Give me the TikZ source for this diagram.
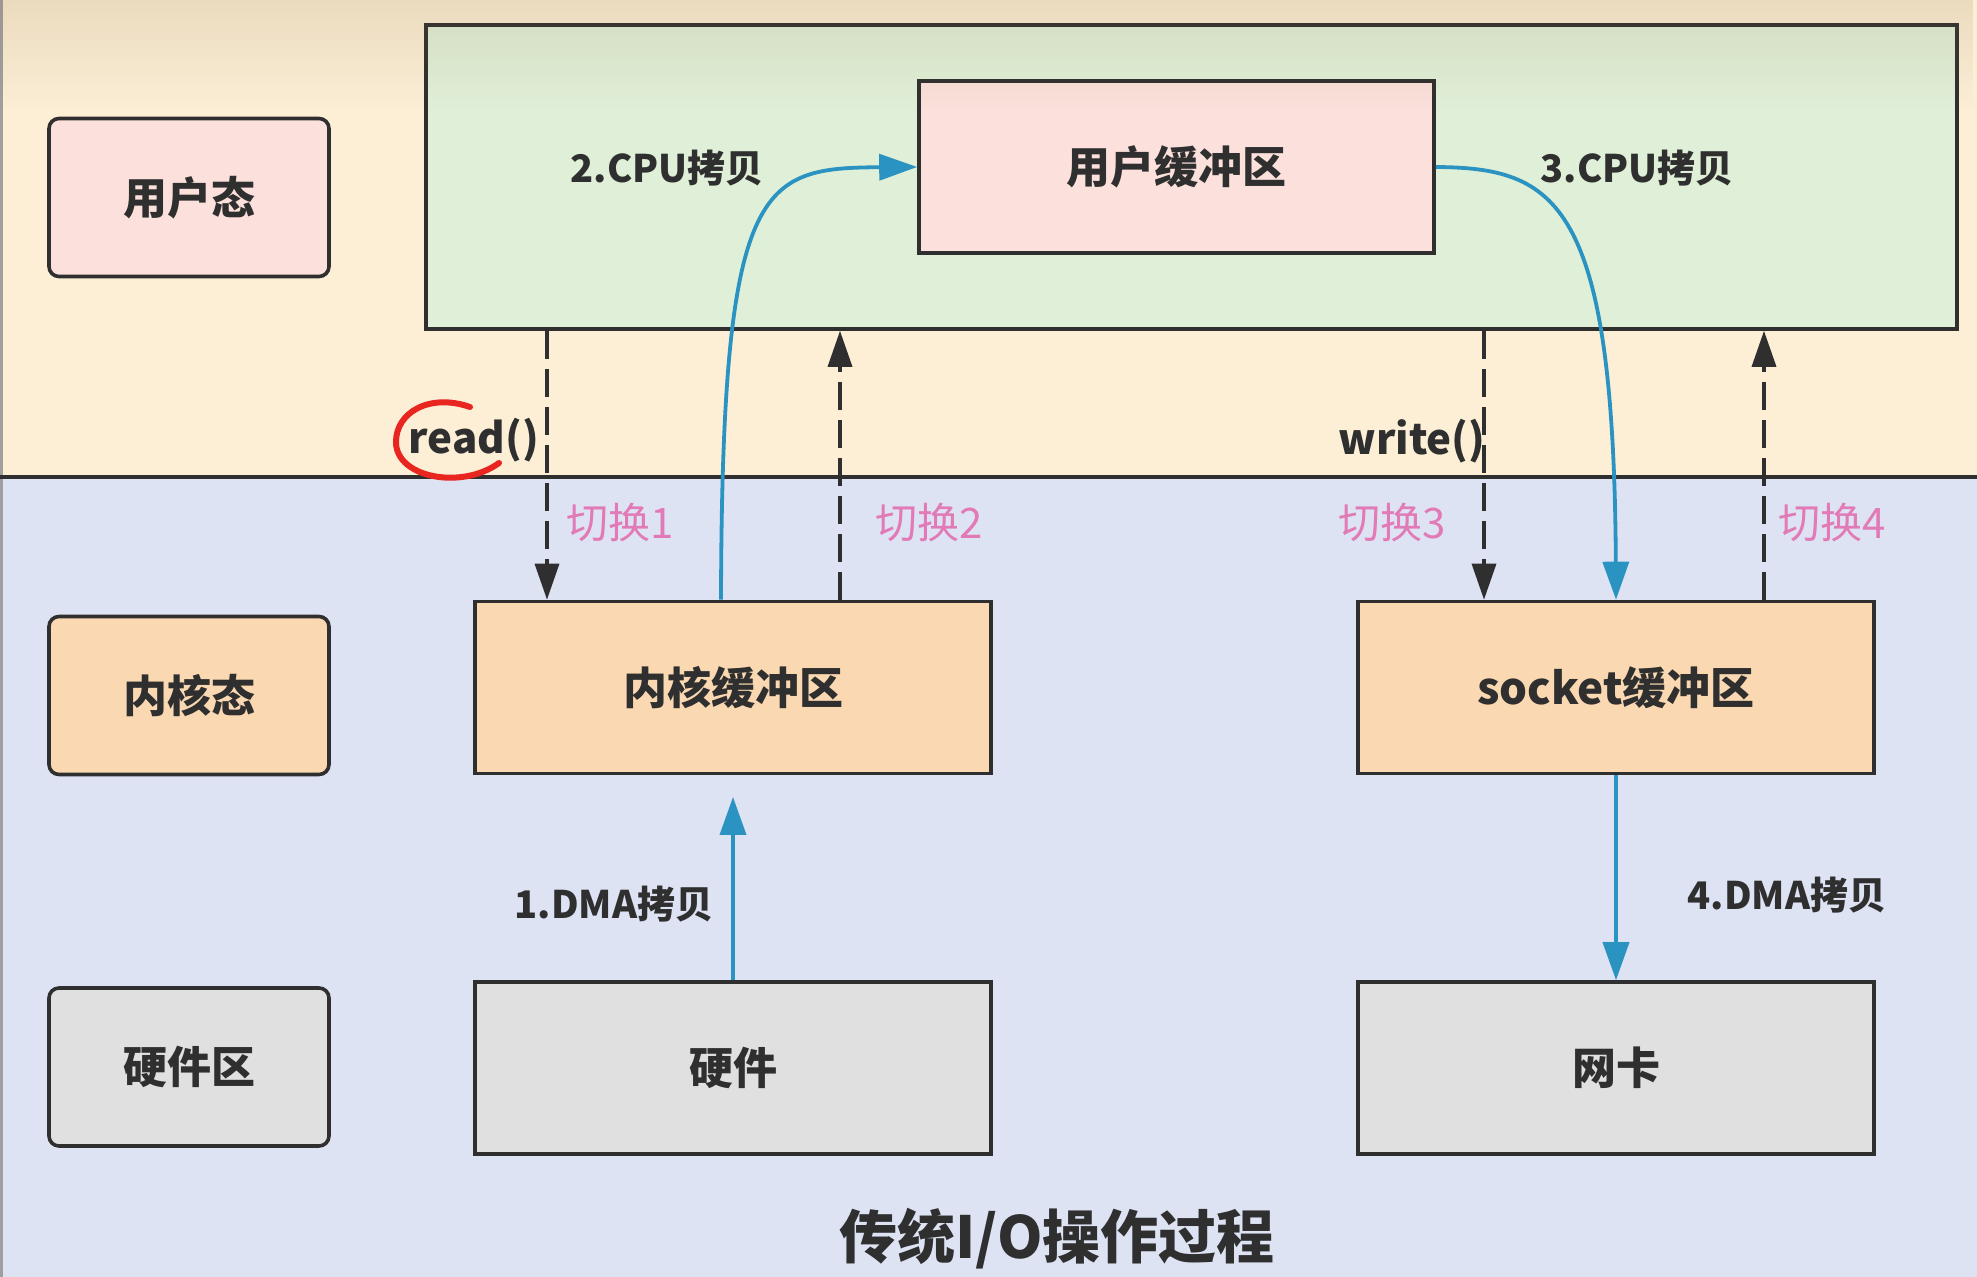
\documentclass[tikz,border=0pt]{standalone}
\usepackage{fontspec}
\setmainfont{Noto Sans CJK SC}
\usetikzlibrary{arrows.meta,fadings}
\definecolor{peach}{HTML}{FCEFD6}
\definecolor{lav}{HTML}{DEE3F4}
\definecolor{greenbg}{HTML}{E0F0D8}
\definecolor{pinkbox}{HTML}{FBE0DB}
\definecolor{orangebox}{HTML}{FAD8B2}
\definecolor{greybox}{HTML}{E0E0E0}
\definecolor{bluearr}{HTML}{2A93C1}
\definecolor{pinktxt}{HTML}{E17AB6}
\definecolor{ink}{HTML}{2F2F2F}
\definecolor{redmark}{HTML}{E8251F}
\definecolor{vign}{HTML}{8B6A3A}
\begin{document}
\begin{tikzpicture}[x=0.5pt,y=-0.5pt,
  bigbox/.style={rectangle, draw=ink, line width=1.8pt, minimum width=258pt, minimum height=86pt,
    inner sep=0pt, text=ink, font=\bfseries\fontsize{22}{26}\selectfont},
  sidebox/.style={rectangle, rounded corners=5pt, draw=ink, line width=1.8pt, minimum width=140pt,
    minimum height=79pt, inner sep=0pt, text=ink, font=\bfseries\fontsize{22}{26}\selectfont},
  lbl/.style={inner sep=0pt, text=ink, font=\bfseries\fontsize{19}{23}\selectfont},
  calllbl/.style={inner sep=0pt, text=ink, font=\bfseries\fontsize{21}{25}\selectfont},
  swlbl/.style={inner sep=0pt, text=pinktxt, font=\fontsize{21}{25}\selectfont},
  titlelbl/.style={inner sep=0pt, text=ink, font=\bfseries\fontsize{29}{34}\selectfont},
  dasharr/.style={draw=ink, line width=1.7pt, dash pattern=on 14pt off 5pt,
    -{Triangle[length=18pt,width=12pt]}},
  bluearrow/.style={draw=bluearr, line width=1.9pt, -{Triangle[length=19pt,width=13pt]}}
]
\useasboundingbox (0,0) rectangle (1977,1277);
% backgrounds
\fill[peach] (0,0) rectangle (1977,477);
\fill[lav] (0,477) rectangle (1977,1277);
\draw[gray!75, line width=1.5pt] (1,0) -- (1,1277);

% user space container
\node[rectangle, draw=ink, line width=1.8pt, fill=greenbg, minimum width=765.5pt, minimum height=152pt,
  inner sep=0pt] (user) at (1191.5,177) {};
\node[bigbox, fill=pinkbox, minimum width=257.5pt] (ubuf) at (1176.5,167) {用户缓冲区};

% side labels
\node[sidebox, fill=pinkbox] (us) at (189,197.5) {用户态};
\node[sidebox, fill=orangebox] (ks) at (189,695.5) {内核态};
\node[sidebox, fill=greybox] (hs) at (189,1067) {硬件区};

% kernel and hardware boxes
\node[bigbox, fill=orangebox] (kbuf) at (733,687.5) {内核缓冲区};
\node[bigbox, fill=orangebox] (sbuf) at (1616,687.5) {socket缓冲区};
\node[bigbox, fill=greybox] (hw) at (733,1068) {硬件};
\node[bigbox, fill=greybox] (nic) at (1616,1068) {网卡};

% separator
\coordinate (sepL) at (0,477);
\coordinate (sepR) at (1977,477);
\draw[ink, line width=2pt] (sepL) -- (sepR);

% dashed switch arrows
\coordinate (x1) at (547,0);
\coordinate (x2) at (840,0);
\coordinate (x3) at (1484,0);
\coordinate (x4) at (1764,0);
\draw[dasharr] (user.south -| x1) -- (kbuf.north -| x1);
\draw[dasharr] (kbuf.north -| x2) -- (user.south -| x2);
\draw[dasharr] (user.south -| x3) -- (sbuf.north -| x3);
\draw[dasharr] (sbuf.north -| x4) -- (user.south -| x4);

% blue copy arrows
\coordinate (c1) at (721,0);
\draw[bluearrow] (kbuf.north -| c1) .. controls (722,180) and (760,168) .. (ubuf.west);
\draw[bluearrow] (ubuf.east) .. controls (1556,168) and (1614,200) .. (sbuf.north);
\coordinate (dmatip) at (733,797);
\draw[bluearrow] (hw.north) -- (dmatip);
\draw[bluearrow] (sbuf.south) -- (nic.north);

% labels
\node[lbl] (cpu2) at (667,168) {2.CPU拷贝};
\node[lbl] (cpu3) at (1637,168) {3.CPU拷贝};
\node[calllbl] (rd) at (474,440) {read()};
\node[calllbl] (wr) at (1412,441) {write()};
\node[swlbl] (sw1) at (620,523) {切换1};
\node[swlbl] (sw2) at (929,523) {切换2};
\node[swlbl] (sw3) at (1392,523) {切换3};
\node[swlbl] (sw4) at (1832,523) {切换4};
\node[lbl] (dma1) at (614,904) {1.DMA拷贝};
\node[lbl] (dma4) at (1787,895) {4.DMA拷贝};
\node[titlelbl] (title) at (1057,1239) {传统I/O操作过程};

% red hand-drawn mark
\draw[redmark, line width=3pt, line cap=round]
  (470,407) .. controls (430,393) and (396,412) .. (396,442)
  .. controls (396,478) and (462,490) .. (499,463);

% top vignette
\fill[vign, opacity=0.15, path fading=south] (0,0) rectangle (1977,110);
\end{tikzpicture}
\end{document}
